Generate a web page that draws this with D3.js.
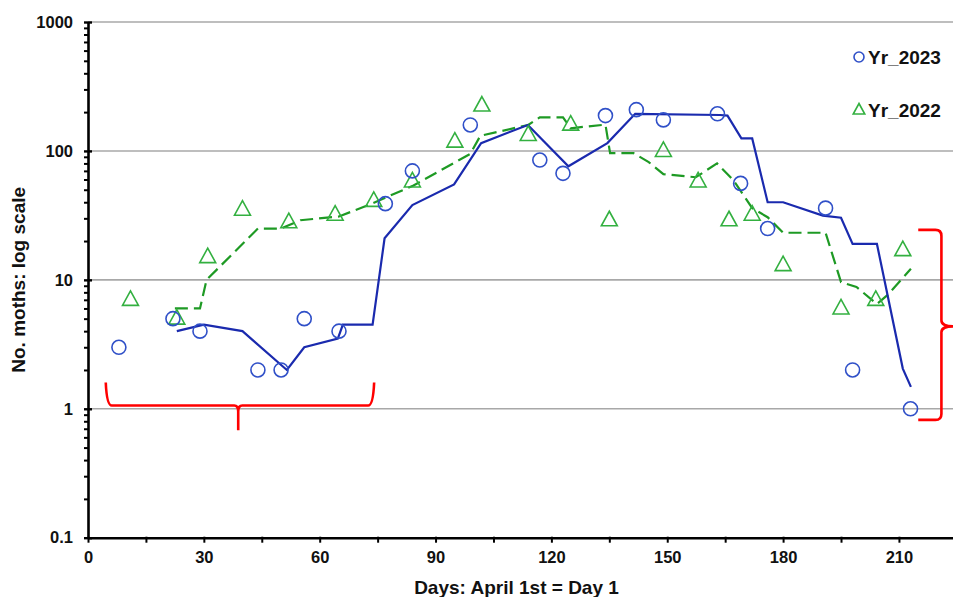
<!DOCTYPE html>
<html lang="en">
<head>
    <meta charset="UTF-8">
    <title>Moth counts, log scale</title>
    <script src="https://d3js.org/d3.v7.min.js"></script>
    <style>
        body { margin: 0; background: #fff; }
        text { font-family: "Liberation Sans", Arial, sans-serif; font-weight: bold; }
    </style>
</head>
<body>
    <div id="container"></div>
    <script>
        // Observed counts, 2023 (circles)
        const days2023  = [8, 22, 29, 44, 50, 56, 65, 77, 84, 99, 117, 123, 134, 142, 149, 163, 169, 176, 191, 198, 213];
        const moths2023 = [3, 5, 4, 2, 2, 5, 4, 39, 70, 159, 85, 67, 188, 209, 174, 194, 56, 25, 36, 2, 1];

        // Trend line, 2023 (solid)
        const trendDays2023 = [23, 30, 40, 51.5, 56, 64.7, 66, 73.7, 76.8, 84, 94.8, 101.8, 113.9, 124.4, 134.5, 141.7,
                               163.7, 165.6, 169.2, 172, 176, 180, 190.3, 195, 198, 204.3, 211, 213.1];
        const trend2023     = [4.0, 4.5, 4.0, 2.0, 3.0, 3.5, 4.5, 4.5, 21, 38, 55, 115, 159, 76, 115, 194,
                               190, 188, 125, 125, 40, 40, 31.5, 30.3, 19, 19, 2.05, 1.48];

        // Observed counts, 2022 (triangles)
        const days2022  = [11, 23, 31, 40, 52, 64, 74, 84, 95, 102, 114, 125, 135, 149, 158, 166, 172, 180, 195, 204, 211];
        const moths2022 = [7, 5, 15, 35, 28, 32, 41, 58, 118, 225, 133, 160, 29, 100, 58, 29, 32, 13, 6, 7, 17];

        // Trend line, 2022 (dashed)
        const trendDays2022 = [22.5, 29, 30.7, 44, 50, 55, 65, 73.3, 84.3, 99, 101.6, 114, 117, 123, 125, 134, 135.2,
                               141.3, 145.2, 149, 157.4, 162.9, 167.2, 172, 176, 180, 191, 195, 199, 204.3, 207, 213.1];
        const trend2022     = [6, 6, 10, 25, 25, 29, 31, 38.8, 54, 95, 131, 159, 182, 182, 150, 160, 96,
                               96, 82, 66, 62.5, 80, 59, 36, 30.6, 23.2, 23.2, 9.6, 8.8, 6.5, 7.6, 12.2];

        // Axis ticks
        const xTicks = [0, 30, 60, 90, 120, 150, 180, 210];
        const xMinorTicks = [15, 45, 75, 105, 135, 165, 195];
        const yTicks = [0.1, 1, 10, 100, 1000];
        const yMinorTicks = [0.1, 1, 10, 100].flatMap(d => d3.range(2, 10).map(k => +(k * d).toPrecision(2)));

        const seriesNames = ["Yr_2023", "Yr_2022"];

        // Dimensions
        const marginTop = 22;
        const marginLeft = 88;
        const totalWidth = 953;
        const totalHeight = 597;
        const width = totalWidth - marginLeft;
        const height = 515.7;

        const blueDot = "#3050c8";
        const blueLine = "#1a2aae";
        const greenDot = "#33b040";
        const greenLine = "#1e9a24";

        const svg = d3.select("#container")
                      .append("svg")
                      .attr("width", totalWidth)
                      .attr("height", totalHeight)
                      .append("g")
                      .attr("transform", `translate(${marginLeft},${marginTop})`);

        // Scales
        const x = d3.scaleLinear()
                    .domain([0, 224])
                    .range([0, width]);
        const y = d3.scaleLog()
                    .domain([0.1, 1000])
                    .range([height, 0]);

        // Gridlines
        svg.append("g")
           .selectAll("line")
           .data(yTicks.slice(1))
           .join("line")
           .attr("x1", 0)
           .attr("x2", width)
           .attr("y1", d => y(d))
           .attr("y2", d => y(d))
           .attr("stroke", "#a8a8a8")
           .attr("stroke-width", 1.6);

        // X axis
        svg.append("g")
           .attr("transform", `translate(0,${height})`)
           .call(d3.axisBottom(x).tickValues(xMinorTicks).tickSize(5).tickFormat(""))
           .call(g => g.select(".domain").remove())
           .call(g => g.selectAll(".tick line").attr("y1", -1).attr("stroke-width", 2));
        svg.append("g")
           .attr("transform", `translate(0,${height})`)
           .call(d3.axisBottom(x).tickValues(xTicks).tickSize(5).tickPadding(9).tickSizeOuter(0))
           .call(g => g.select(".domain").attr("stroke-width", 2.6))
           .call(g => g.selectAll(".tick line").attr("y1", -1).attr("stroke-width", 2))
           .call(g => g.selectAll(".tick text").attr("font-size", 16.5).attr("fill", "#111"));

        // Y axis: minor then major ticks
        svg.append("g")
           .call(d3.axisLeft(y).tickValues(yMinorTicks).tickSize(4).tickFormat(""))
           .call(g => g.select(".domain").remove())
           .call(g => g.selectAll(".tick line").attr("stroke-width", 2));
        svg.append("g")
           .call(d3.axisLeft(y).tickValues(yTicks).tickSize(4).tickPadding(11).tickSizeOuter(0)
                   .tickFormat(d => String(d)))
           .call(g => g.select(".domain").attr("stroke-width", 2.6))
           .call(g => g.selectAll(".tick line").attr("x1", 4).attr("stroke-width", 2.4))
           .call(g => g.selectAll(".tick text").attr("font-size", 16.5).attr("fill", "#111"));

        // Axis titles
        svg.append("text")
           .attr("x", width / 2 - 4)
           .attr("y", height + 56)
           .attr("text-anchor", "middle")
           .attr("font-size", 19)
           .attr("fill", "#111")
           .text("Days: April 1st = Day 1");
        svg.append("text")
           .attr("transform", `translate(${-marginLeft + 25},${height / 2}) rotate(-90)`)
           .attr("text-anchor", "middle")
           .attr("font-size", 19)
           .attr("fill", "#111")
           .text("No. moths: log scale");

        // Trend lines
        const line = d3.line().x(d => x(d[0])).y(d => y(d[1]));

        svg.append("path")
           .datum(d3.zip(trendDays2022, trend2022))
           .attr("fill", "none")
           .attr("stroke", greenLine)
           .attr("stroke-width", 2.2)
           .attr("stroke-dasharray", "13,6")
           .attr("d", line);

        svg.append("path")
           .datum(d3.zip(trendDays2023, trend2023))
           .attr("fill", "none")
           .attr("stroke", blueLine)
           .attr("stroke-width", 2.2)
           .attr("d", line);

        // Markers
        const tri = (s) => `M0,${-s * 0.62}L${s * 0.55},${s * 0.38}L${-s * 0.55},${s * 0.38}Z`;

        svg.append("g")
           .selectAll("path")
           .data(d3.zip(days2022, moths2022))
           .join("path")
           .attr("transform", d => `translate(${x(d[0])},${y(d[1])})`)
           .attr("d", tri(14.5))
           .attr("fill", "none")
           .attr("stroke", greenDot)
           .attr("stroke-width", 1.6);

        svg.append("g")
           .selectAll("circle")
           .data(d3.zip(days2023, moths2023))
           .join("circle")
           .attr("cx", d => x(d[0]))
           .attr("cy", d => y(d[1]))
           .attr("r", 7)
           .attr("fill", "none")
           .attr("stroke", blueDot)
           .attr("stroke-width", 1.6);

        // Legend
        const legend = svg.append("g").attr("transform", `translate(${859 - marginLeft},${57 - marginTop})`);
        legend.append("circle")
              .attr("r", 5)
              .attr("fill", "none")
              .attr("stroke", blueDot)
              .attr("stroke-width", 1.6);
        legend.append("path")
              .attr("transform", "translate(0,53)")
              .attr("d", tri(10.5))
              .attr("fill", "none")
              .attr("stroke", greenDot)
              .attr("stroke-width", 1.6);
        legend.selectAll("text")
              .data(seriesNames)
              .join("text")
              .attr("x", 9)
              .attr("y", (d, i) => i * 53)
              .attr("dy", "0.35em")
              .attr("font-size", 19)
              .attr("fill", "#111")
              .text(d => d);

        // Red brace annotations
        const bx0 = x(4.6), bx1 = x(74.1), bxm = x(38.9);
        const byTop = y(1.6), byLine = y(1.06), byTip = y(0.68);
        svg.append("path")
           .attr("fill", "none")
           .attr("stroke", "#ff0000")
           .attr("stroke-width", 2.6)
           .attr("d", `M${bx0},${byTop} Q${bx0 + 1},${byLine} ${bx0 + 6},${byLine} L${bxm - 4},${byLine}
                       Q${bxm},${byLine} ${bxm},${byLine + 6} L${bxm},${byTip}
                       M${bxm},${byLine + 6} Q${bxm},${byLine} ${bxm + 4},${byLine} L${bx1 - 6},${byLine}
                       Q${bx1 - 1},${byLine} ${bx1},${byTop}`);

        const rx0 = x(215), rxv = x(221), rxt = x(224);
        const ryTop = y(24.4), ryMid = y(4.36), ryBot = y(0.82);
        svg.append("path")
           .attr("fill", "none")
           .attr("stroke", "#ff0000")
           .attr("stroke-width", 2.6)
           .attr("d", `M${rx0},${ryTop} L${rxv - 6},${ryTop} Q${rxv},${ryTop} ${rxv},${ryTop + 6}
                       L${rxv},${ryMid - 6} Q${rxv},${ryMid} ${rxt},${ryMid}
                       Q${rxv},${ryMid} ${rxv},${ryMid + 6} L${rxv},${ryBot - 6}
                       Q${rxv},${ryBot} ${rxv - 6},${ryBot} L${rx0},${ryBot}`);
    </script>
</body>
</html>
